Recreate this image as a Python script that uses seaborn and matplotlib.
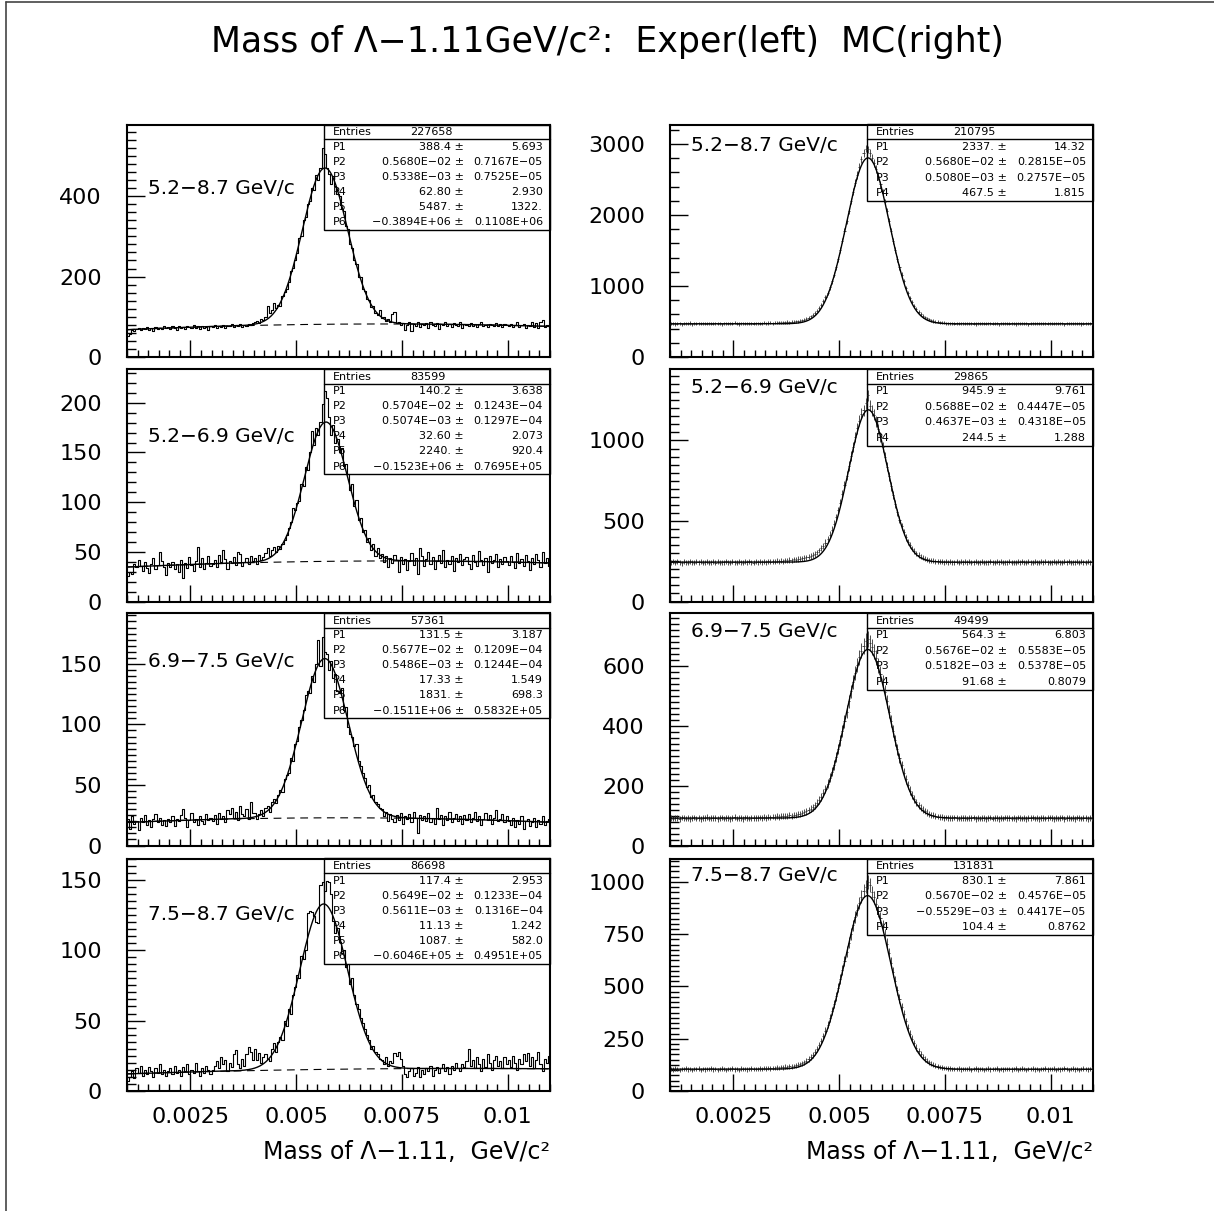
import numpy as np
import pandas as pd
import matplotlib
matplotlib.use("Agg")
import matplotlib.pyplot as plt
from matplotlib.ticker import MultipleLocator, FixedLocator, FixedFormatter, NullFormatter
from matplotlib.patches import Rectangle
from matplotlib.lines import Line2D
import seaborn as sns

W, H = 1214, 1211
X_MIN, X_MAX = 0.001, 0.011

# ---------------- data: experimental histograms (left column) ----------------
exp_52_87 = [
    52, 58, 66, 64, 70, 71, 67, 73, 69, 74, 68, 72, 65, 75, 70, 73, 69, 76, 71, 74,
    70, 76, 73, 67, 78, 72, 75, 69, 77, 74, 71, 79, 73, 76, 70, 78, 72, 75, 68, 77,
    74, 79, 72, 77, 75, 80, 73, 78, 76, 81, 74, 79, 77, 82, 75, 80, 78, 83, 79, 84,
    86, 90, 84, 95, 92, 99, 128, 110, 118, 134, 122, 130, 128, 152, 162, 170, 186, 214, 222, 240,
    258, 295, 300, 340, 348, 380, 388, 420, 415, 452, 440, 470, 520, 505, 470, 455, 430, 450, 425, 405,
    400, 368, 362, 325, 318, 280, 272, 240, 232, 200, 198, 170, 165, 145, 142, 125, 128, 110, 104, 118,
    96, 99, 90, 94, 86, 108, 112, 84, 88, 79, 85, 66, 80, 86, 64, 83, 78, 88, 75, 81,
    79, 84, 72, 86, 80, 77, 85, 70, 83, 79, 88, 76, 82, 74, 85, 80, 78, 86, 73, 82,
    80, 76, 84, 78, 82, 75, 81, 86, 77, 80, 74, 83, 79, 76, 84, 78, 81, 75, 82, 79,
    77, 82, 75, 80, 86, 74, 79, 83, 72, 80, 77, 88, 75, 84, 71, 86, 92, 74, 80, 78,
]
exp_52_69 = [
    26, 30, 28, 38, 35, 42, 36, 31, 40, 34, 29, 38, 44, 33, 37, 50, 41, 35, 27, 39,
    35, 40, 33, 38, 30, 42, 24, 39, 34, 45, 37, 31, 41, 55, 35, 44, 33, 39, 46, 36,
    38, 42, 35, 47, 40, 52, 43, 33, 41, 39, 45, 37, 50, 48, 36, 40, 44, 38, 46, 41,
    44, 38, 47, 42, 45, 49, 54, 46, 52, 55, 50, 56, 53, 58, 62, 67, 74, 80, 94, 92,
    99, 101, 118, 116, 135, 132, 150, 172, 158, 175, 168, 181, 199, 212, 205, 186, 168, 178, 160, 164,
    150, 154, 136, 138, 128, 112, 118, 96, 102, 82, 84, 70, 72, 60, 64, 52, 58, 46, 54, 44,
    48, 40, 46, 35, 44, 39, 47, 42, 30, 45, 38, 43, 32, 41, 49, 37, 44, 28, 54, 46,
    36, 43, 50, 38, 45, 33, 41, 47, 39, 52, 35, 42, 38, 46, 31, 44, 40, 48, 37, 43,
    45, 38, 33, 47, 40, 36, 51, 42, 37, 44, 30, 46, 39, 42, 48, 35, 43, 38, 45, 41,
    37, 46, 40, 34, 49, 39, 43, 36, 47, 41, 32, 44, 38, 48, 42, 35, 50, 39, 44, 36,
]
exp_69_75 = [
    22, 14, 24, 18, 20, 13, 23, 19, 25, 17, 21, 15, 22, 26, 19, 23, 17, 21, 16, 22,
    19, 24, 16, 22, 20, 25, 30, 23, 15, 21, 27, 19, 22, 17, 24, 20, 18, 26, 21, 23,
    20, 25, 18, 27, 22, 24, 19, 29, 26, 31, 23, 28, 21, 33, 26, 24, 30, 22, 36, 27,
    27, 22, 26, 29, 24, 31, 33, 28, 36, 38, 35, 42, 46, 44, 55, 58, 60, 72, 70, 84,
    86, 98, 104, 112, 124, 128, 126, 140, 135, 150, 170, 148, 172, 160, 158, 145, 152, 138, 142, 128,
    126, 130, 112, 114, 98, 92, 90, 82, 84, 70, 66, 60, 56, 48, 50, 40, 42, 36, 34, 31,
    30, 24, 28, 20, 26, 22, 19, 25, 21, 27, 18, 24, 22, 26, 19, 28, 23, 10, 25, 21,
    24, 20, 27, 19, 23, 18, 31, 22, 25, 17, 24, 21, 28, 19, 23, 26, 20, 24, 18, 25,
    21, 26, 19, 23, 28, 20, 24, 17, 22, 27, 21, 25, 18, 23, 29, 20, 22, 26, 19, 24,
    20, 17, 23, 15, 21, 18, 24, 14, 20, 22, 16, 19, 23, 15, 21, 18, 24, 17, 20, 22,
]
exp_75_87 = [
    7, 10, 14, 9, 16, 13, 18, 11, 15, 12, 17, 14, 10, 16, 13, 19, 12, 15, 11, 14,
    16, 12, 18, 13, 15, 11, 17, 14, 19, 12, 15, 13, 20, 14, 11, 16, 13, 18, 15, 12,
    15, 18, 21, 16, 24, 19, 22, 14, 20, 17, 26, 29, 19, 16, 23, 18, 26, 31, 28, 22,
    30, 22, 27, 20, 24, 26, 23, 21, 30, 34, 28, 35, 38, 36, 50, 46, 58, 55, 68, 74,
    82, 80, 96, 94, 100, 126, 128, 127, 124, 120, 119, 146, 148, 142, 149, 148, 140, 121, 112, 116,
    106, 98, 100, 88, 90, 76, 80, 68, 62, 58, 52, 48, 44, 40, 36, 30, 32, 28, 26, 23,
    22, 19, 24, 18, 21, 20, 27, 25, 28, 23, 18, 12, 10, 14, 16, 11, 13, 17, 10, 15,
    12, 16, 14, 18, 11, 15, 17, 13, 16, 19, 14, 17, 12, 18, 15, 20, 16, 14, 19, 17,
    21, 30, 18, 22, 16, 24, 19, 14, 23, 17, 26, 20, 15, 22, 25, 18, 21, 16, 24, 19,
    22, 17, 25, 20, 15, 23, 19, 26, 21, 27, 18, 24, 16, 22, 28, 19, 14, 23, 20, 25,
]

# ---------------- data: MC histograms (right column) ----------------
mc_52_87 = [
    468, 473, 465, 471, 476, 462, 470, 474, 467, 479, 464, 472, 469, 477, 466, 473, 470, 468, 475, 471,
    466, 474, 470, 478, 463, 472, 476, 469, 473, 467, 480, 471, 465, 475, 472, 468, 477, 470, 474, 469,
    473, 478, 470, 476, 481, 474, 479, 483, 477, 485, 480, 487, 484, 490, 486, 493, 491, 497, 495, 502,
    505, 512, 518, 528, 540, 555, 572, 598, 622, 655, 690, 735, 785, 840, 905, 980, 1065, 1160, 1265, 1378,
    1505, 1640, 1780, 1915, 2060, 2195, 2330, 2455, 2565, 2675, 2785, 2875, 2935, 2925, 2870, 2800, 2730, 2650, 2550, 2435,
    2315, 2185, 2050, 1910, 1772, 1638, 1505, 1382, 1268, 1160, 1065, 975, 898, 830, 770, 718, 676, 638, 606, 580,
    560, 543, 530, 518, 508, 500, 495, 489, 484, 481, 478, 476, 474, 478, 471, 475, 469, 473, 477, 470,
    472, 468, 476, 471, 465, 474, 469, 478, 470, 466, 473, 477, 468, 471, 475, 464, 472, 469, 476, 470,
    467, 474, 471, 465, 478, 470, 473, 468, 476, 463, 471, 475, 469, 472, 466, 477, 470, 473, 468, 474,
    471, 466, 475, 469, 472, 478, 464, 473, 470, 476, 467, 472, 469, 474, 465, 471, 477, 468, 473, 470,
]
mc_52_69 = [
    243, 246, 241, 248, 244, 239, 247, 245, 242, 249, 244, 240, 246, 243, 248, 241, 245, 247, 242, 244,
    246, 242, 248, 240, 245, 243, 249, 244, 241, 247, 245, 242, 248, 244, 240, 246, 243, 249, 245, 242,
    246, 244, 248, 243, 247, 245, 250, 246, 249, 247, 252, 249, 254, 251, 256, 253, 258, 256, 261, 259,
    264, 266, 269, 271, 274, 278, 283, 288, 296, 305, 317, 330, 347, 366, 390, 416, 447, 482, 522, 566,
    612, 665, 722, 780, 842, 902, 962, 1020, 1075, 1122, 1165, 1188, 1230, 1280, 1215, 1185, 1160, 1120, 1072, 1020,
    962, 900, 838, 778, 716, 660, 604, 554, 508, 468, 431, 398, 371, 348, 329, 312, 299, 288, 279, 272,
    266, 261, 257, 254, 252, 250, 249, 247, 248, 245, 246, 244, 247, 243, 245, 248, 242, 246, 244, 247,
    243, 246, 241, 245, 248, 242, 244, 247, 240, 245, 243, 249, 244, 241, 246, 243, 248, 242, 245, 244,
    247, 242, 245, 240, 246, 244, 249, 243, 241, 247, 244, 242, 248, 245, 240, 246, 243, 247, 244, 241,
    245, 248, 242, 246, 243, 240, 247, 244, 249, 242, 245, 243, 246, 241, 248, 244, 242, 247, 243, 245,
]
mc_69_75 = [
    92, 90, 93, 91, 89, 94, 92, 90, 93, 88, 91, 94, 90, 92, 89, 93, 91, 95, 90, 92,
    91, 93, 89, 92, 94, 90, 91, 93, 88, 92, 95, 90, 92, 91, 89, 94, 92, 90, 93, 91,
    93, 92, 94, 91, 95, 93, 96, 94, 97, 95, 98, 96, 99, 98, 100, 99, 101, 100, 103, 102,
    104, 106, 108, 111, 114, 118, 123, 128, 135, 143, 152, 162, 175, 190, 207, 226, 247, 270, 296, 323,
    352, 384, 415, 448, 482, 516, 548, 578, 604, 630, 652, 668, 684, 692, 678, 664, 650, 628, 602, 575,
    546, 514, 482, 448, 416, 384, 352, 322, 294, 268, 244, 222, 202, 184, 169, 156, 145, 135, 127, 120,
    115, 110, 106, 103, 101, 99, 97, 96, 95, 93, 94, 92, 93, 91, 94, 92, 90, 93, 91, 92,
    90, 93, 91, 94, 89, 92, 90, 93, 91, 88, 92, 94, 90, 91, 93, 89, 92, 90, 94, 91,
    93, 90, 92, 89, 94, 91, 90, 93, 88, 92, 91, 94, 90, 92, 89, 93, 91, 90, 92, 94,
    91, 89, 93, 90, 92, 94, 88, 91, 93, 90, 92, 89, 94, 91, 90, 93, 91, 89, 92, 90,
]
mc_75_87 = [
    105, 103, 107, 104, 102, 106, 104, 108, 103, 105, 101, 106, 104, 107, 102, 105, 103, 106, 104, 108,
    103, 106, 102, 105, 107, 104, 101, 106, 104, 108, 103, 105, 102, 107, 104, 106, 103, 105, 108, 104,
    106, 105, 108, 106, 109, 107, 110, 108, 111, 110, 113, 111, 114, 113, 116, 115, 118, 117, 120, 122,
    126, 129, 133, 138, 145, 153, 162, 173, 186, 201, 219, 240, 263, 289, 317, 348, 381, 416, 454, 494,
    535, 578, 622, 666, 710, 752, 792, 832, 866, 900, 930, 958, 978, 1000, 985, 952, 926, 895, 862, 826,
    788, 748, 705, 660, 614, 570, 525, 482, 441, 402, 366, 333, 302, 275, 250, 228, 208, 192, 177, 165,
    153, 145, 138, 131, 126, 121, 118, 115, 113, 110, 109, 107, 108, 105, 106, 104, 107, 103, 105, 106,
    104, 107, 102, 105, 108, 103, 106, 104, 101, 105, 107, 103, 106, 104, 108, 102, 105, 103, 106, 104,
    106, 103, 105, 108, 102, 104, 107, 105, 101, 106, 104, 107, 103, 105, 102, 106, 104, 108, 103, 105,
    104, 107, 102, 105, 103, 106, 108, 104, 101, 105, 107, 103, 106, 102, 104, 107, 105, 103, 106, 104,
]

# ---------------- labels and fit results (as printed in the stat boxes) ----------------
range_labels = ["5.2−8.7 GeV/c", "5.2−6.9 GeV/c", "6.9−7.5 GeV/c", "7.5−8.7 GeV/c"]
exp_entries = ["227658", "83599", "57361", "86698"]
mc_entries = ["210795", "29865", "49499", "131831"]
exp_par_vals = [
    ["388.4", "0.5680E-02", "0.5338E-03", "62.80", "5487.", "-0.3894E+06"],
    ["140.2", "0.5704E-02", "0.5074E-03", "32.60", "2240.", "-0.1523E+06"],
    ["131.5", "0.5677E-02", "0.5486E-03", "17.33", "1831.", "-0.1511E+06"],
    ["117.4", "0.5649E-02", "0.5611E-03", "11.13", "1087.", "-0.6046E+05"],
]
exp_par_errs = [
    ["5.693", "0.7167E-05", "0.7525E-05", "2.930", "1322.", "0.1108E+06"],
    ["3.638", "0.1243E-04", "0.1297E-04", "2.073", "920.4", "0.7695E+05"],
    ["3.187", "0.1209E-04", "0.1244E-04", "1.549", "698.3", "0.5832E+05"],
    ["2.953", "0.1233E-04", "0.1316E-04", "1.242", "582.0", "0.4951E+05"],
]
mc_par_vals = [
    ["2337.", "0.5680E-02", "0.5080E-03", "467.5"],
    ["945.9", "0.5688E-02", "0.4637E-03", "244.5"],
    ["564.3", "0.5676E-02", "0.5182E-03", "91.68"],
    ["830.1", "0.5670E-02", "-0.5529E-03", "104.4"],
]
mc_par_errs = [
    ["14.32", "0.2815E-05", "0.2757E-05", "1.815"],
    ["9.761", "0.4447E-05", "0.4318E-05", "1.288"],
    ["6.803", "0.5583E-05", "0.5378E-05", "0.8079"],
    ["7.861", "0.4576E-05", "0.4417E-05", "0.8762"],
]
x_tick_vals = [0.0025, 0.005, 0.0075, 0.01]
x_tick_labels = ["0.0025", "0.005", "0.0075", "0.01"]
title_text = "Mass of Λ−1.11GeV/c²:  Exper(left)  MC(right)"
xlabel_text = "Mass of Λ−1.11,  GeV/c²"

exp_data = [exp_52_87, exp_52_69, exp_69_75, exp_75_87]
mc_data = [mc_52_87, mc_52_69, mc_69_75, mc_75_87]

# ---------------- layout / style ----------------
sns.set_style("white")
plt.rcParams["font.family"] = ["DejaVu Sans"]
plt.rcParams["axes.linewidth"] = 1.5
plt.rcParams["text.color"] = "black"
plt.rcParams["axes.labelcolor"] = "black"
plt.rcParams["xtick.color"] = "black"
plt.rcParams["ytick.color"] = "black"

col_x0 = [127, 670]
ax_w = 423
row_top = [124.5, 369, 613, 858.5]
ax_h = 232.5
ylims = [[578, 3275], [234, 1444], [192, 778], [165, 1112]]
ymaj = [[200, 1000], [50, 500], [50, 200], [50, 250]]
ymin = [[20, 200], [10, 50], [5, 20], [5, 25]]
label_y = [[0.725, 0.91], [0.709, 0.92], [0.792, 0.92], [0.758, 0.925]]

fig = plt.figure(figsize=(W / 100, H / 100), dpi=100)
fig.patch.set_facecolor("white")

xf = np.linspace(X_MIN, X_MAX, 1200)


def disp(s):
    return s.replace("-", "−")


for r in range(4):
    for c in range(2):
        x0 = col_x0[c]
        top = row_top[r]
        ax = fig.add_axes([x0 / W, 1 - (top + ax_h) / H, ax_w / W, ax_h / H])
        vals = np.array(exp_data[r] if c == 0 else mc_data[r], dtype=float)
        nb = len(vals)
        edges = np.linspace(X_MIN, X_MAX, nb + 1)
        centers = 0.5 * (edges[:-1] + edges[1:])
        bw = edges[1] - edges[0]

        if c == 0:
            df = pd.DataFrame({"mass": centers, "count": vals})
            sns.histplot(data=df, x="mass", weights="count", bins=nb, binrange=(X_MIN, X_MAX),
                         element="step", fill=False, color="black", linewidth=0.8, ax=ax)
            p = [float(v) for v in exp_par_vals[r]]
            bg = p[3] + p[4] * xf + p[5] * xf ** 2
            yf = p[0] * np.exp(-0.5 * ((xf - p[1]) / p[2]) ** 2) + bg
            ax.plot(xf, bg, color="black", lw=0.8, ls=(0, (7, 5)), zorder=3)
            sns.lineplot(x=xf, y=yf, color="black", linewidth=1.0, ax=ax, zorder=4)
            entries = exp_entries[r]
            pv, pe = exp_par_vals[r], exp_par_errs[r]
        else:
            ax.errorbar(centers, vals, xerr=bw / 2, yerr=np.sqrt(vals), fmt="none",
                        ecolor="#303030", elinewidth=0.6, capsize=0, zorder=3)
            p = [float(v) for v in mc_par_vals[r]]
            yf = p[0] * np.exp(-0.5 * ((xf - p[1]) / p[2]) ** 2) + p[3]
            sns.lineplot(x=xf, y=yf, color="black", linewidth=1.0, ax=ax, zorder=4)
            entries = mc_entries[r]
            pv, pe = mc_par_vals[r], mc_par_errs[r]

        ax.set_xlim(X_MIN, X_MAX)
        ax.set_ylim(0, ylims[r][c])
        ax.set_ylabel("")
        ax.set_xlabel("")
        for sp in ax.spines.values():
            sp.set_visible(True)
            sp.set_color("black")
            sp.set_linewidth(1.5)

        ax.xaxis.set_major_locator(FixedLocator(x_tick_vals))
        ax.xaxis.set_minor_locator(MultipleLocator(0.00025))
        if r == 3:
            ax.xaxis.set_major_formatter(FixedFormatter(x_tick_labels))
        else:
            ax.xaxis.set_major_formatter(NullFormatter())
        ax.yaxis.set_major_locator(MultipleLocator(ymaj[r][c]))
        ax.yaxis.set_minor_locator(MultipleLocator(ymin[r][c]))
        ax.tick_params(axis="y", which="major", direction="in", length=13, width=1,
                       left=True, right=False, labelsize=16, pad=18, colors="black")
        ax.tick_params(axis="y", which="minor", direction="in", length=6.5, width=1,
                       left=True, right=False)
        ax.tick_params(axis="x", which="major", direction="in", length=12, width=1,
                       bottom=True, top=False, labelsize=16, pad=11.5, colors="black")
        ax.tick_params(axis="x", which="minor", direction="in", length=5, width=1,
                       bottom=True, top=False)

        if r == 3:
            ax.set_xlabel(xlabel_text, fontsize=17, ha="right", va="center", color="black")
            ax.xaxis.set_label_coords(1.0, -(1152 - 1091) / ax_h)

        # range label
        ax.text(0.05, label_y[r][c], range_labels[r], transform=ax.transAxes,
                fontsize=14.5, ha="left", va="center", color="black")

        # stat box (pixel geometry relative to axes)
        nrow = len(pv)
        row_h = 15.1 if c == 0 else 15.5
        ent_h = 14.5
        box_w = 226
        box_h = ent_h + row_h * nrow
        bx = 1 - box_w / ax_w
        by = 1 - box_h / ax_h
        ax.add_patch(Rectangle((bx, by), box_w / ax_w, box_h / ax_h, transform=ax.transAxes,
                               fill=False, ec="black", lw=1.0, clip_on=False, zorder=2))
        ax.add_line(Line2D([bx, 1], [1 - ent_h / ax_h] * 2, transform=ax.transAxes,
                           color="black", lw=1.0, clip_on=False, zorder=2))

        def tx(px, py_from_top, s, ha, ax=ax, bx=bx):
            ax.text(bx + px / ax_w, 1 - py_from_top / ax_h, s, transform=ax.transAxes,
                    fontsize=8, ha=ha, va="center", zorder=5, color="black")

        tx(9, ent_h / 2 + 0.5, "Entries", "left")
        tx(86, ent_h / 2 + 0.5, entries, "left")
        for k in range(nrow):
            yy = ent_h + row_h * (k + 0.5)
            tx(9, yy, f"P{k + 1}", "left")
            tx(140, yy, disp(pv[k]) + " ±", "right")
            tx(219, yy, disp(pe[k]), "right")

fig.text(0.5, 1 - 42 / H, title_text, ha="center", va="center", fontsize=25, color="black")

# outer frame
fig.add_artist(Line2D([5.5 / W, 5.5 / W], [0, 1 - 2 / H], color="#444444", lw=1.2))
fig.add_artist(Line2D([5.5 / W, 1], [1 - 2 / H, 1 - 2 / H], color="#444444", lw=1.2))

fig.savefig("out.png", dpi=100, facecolor="white")
